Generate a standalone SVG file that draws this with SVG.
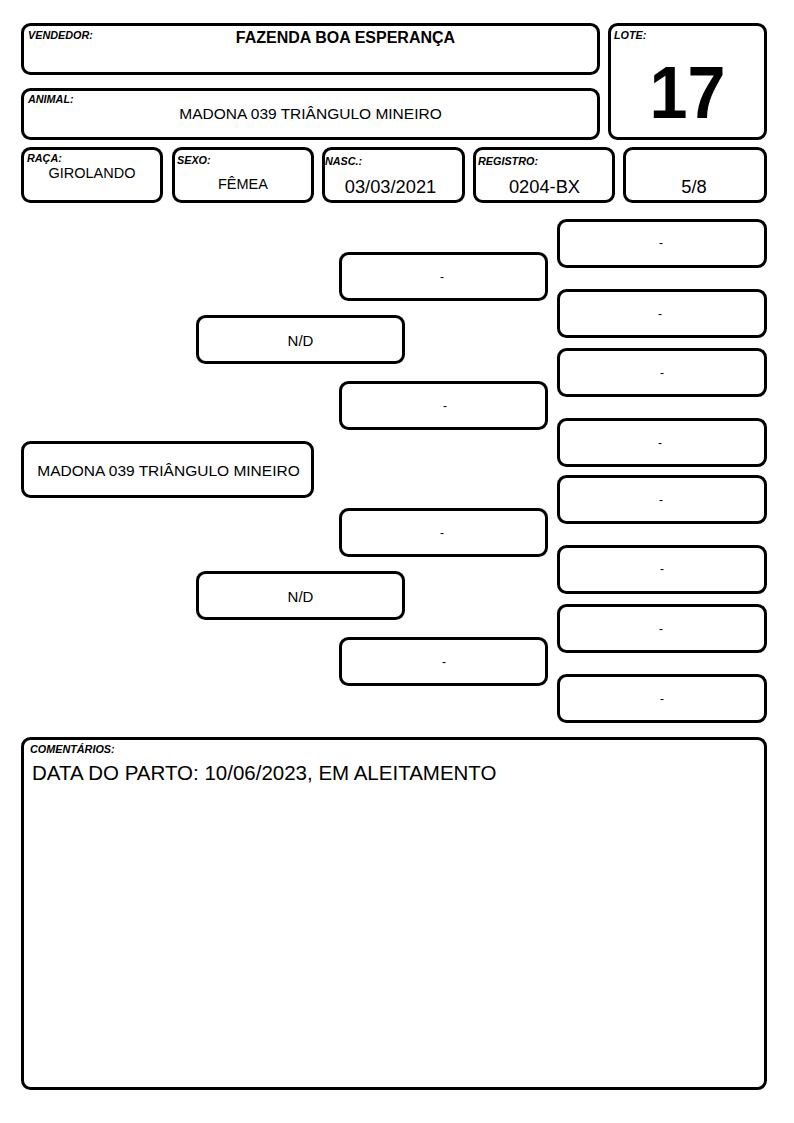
<svg xmlns="http://www.w3.org/2000/svg" width="794" height="1123" viewBox="0 0 794 1123">
<style>
.box{fill:#fff;stroke:#000;stroke-width:3}
.lbl{font-family:"Liberation Sans",Arial,sans-serif;font-size:10.8px;font-weight:bold;font-style:italic;fill:#000}
.t{font-family:"Liberation Sans",Arial,sans-serif;fill:#000;text-anchor:middle}
.v{font-size:15.5px}
.r3{font-size:18.3px}
.nd{font-size:15px}
.d{font-size:12px}
</style>
<rect x="0" y="0" width="794" height="1123" fill="#fff"/>
<g id="connectors"/>
<g id="vendedor">
<rect class="box" x="22.5" y="24.5" width="576" height="49" rx="8"/>
<text class="lbl" x="28" y="39">VENDEDOR:</text>
<text class="t" x="345.5" y="43" font-size="16" font-weight="bold">FAZENDA BOA ESPERANÇA</text>
</g>
<g id="animal">
<rect class="box" x="22.5" y="89.5" width="576" height="49" rx="8"/>
<text class="lbl" x="28" y="103">ANIMAL:</text>
<text class="t v" x="310.5" y="119">MADONA 039 TRIÂNGULO MINEIRO</text>
</g>
<g id="lote">
<rect class="box" x="609.5" y="24.5" width="156" height="114" rx="8"/>
<text class="lbl" x="614" y="39">LOTE:</text>
<text class="t" x="687.5" y="118" font-size="74" font-weight="bold" textLength="76" lengthAdjust="spacingAndGlyphs">17</text>
</g>
<g id="raca">
<rect class="box" x="22.5" y="148.5" width="139" height="53" rx="8"/>
<text class="lbl" x="27" y="162">RAÇA:</text>
<text class="t" x="92" y="178" font-size="14.5">GIROLANDO</text>
</g>
<g id="sexo">
<rect class="box" x="173.5" y="148.5" width="139" height="53" rx="8"/>
<text class="lbl" x="177" y="164">SEXO:</text>
<text class="t" x="243" y="189" font-size="14.5">FÊMEA</text>
</g>
<g id="nasc">
<rect class="box" x="323.5" y="148.5" width="140" height="53" rx="8"/>
<text class="lbl" x="325" y="165">NASC.:</text>
<text class="t r3" x="390.5" y="193">03/03/2021</text>
</g>
<g id="registro">
<rect class="box" x="474.5" y="148.5" width="139" height="53" rx="8"/>
<text class="lbl" x="478" y="165">REGISTRO:</text>
<text class="t r3" x="544.5" y="193">0204-BX</text>
</g>
<g id="grau">
<rect class="box" x="624.5" y="148.5" width="141" height="53" rx="8"/>
<text class="t r3" x="694" y="193">5/8</text>
</g>
<g id="ped-animal">
<rect class="box" x="22.5" y="442.5" width="290" height="54" rx="8"/>
<text class="t v" x="168.5" y="476">MADONA 039 TRIÂNGULO MINEIRO</text>
</g>
<g id="ped-pai">
<rect class="box" x="197.5" y="316.5" width="206" height="46" rx="8"/>
<text class="t nd" x="300.5" y="346">N/D</text>
</g>
<g id="ped-mae">
<rect class="box" x="197.5" y="572.5" width="206" height="46" rx="8"/>
<text class="t nd" x="300.5" y="602">N/D</text>
</g>
<g id="avo1">
<rect class="box" x="340.5" y="253.5" width="206" height="46" rx="8"/>
<text class="t d" x="442" y="281">-</text>
</g>
<g id="avo2">
<rect class="box" x="340.5" y="382.5" width="206" height="46" rx="8"/>
<text class="t d" x="445" y="410">-</text>
</g>
<g id="avo3">
<rect class="box" x="340.5" y="509.5" width="206" height="46" rx="8"/>
<text class="t d" x="442" y="537">-</text>
</g>
<g id="avo4">
<rect class="box" x="340.5" y="638.5" width="206" height="46" rx="8"/>
<text class="t d" x="444" y="666">-</text>
</g>
<g id="bisavo1">
<rect class="box" x="558.5" y="220.5" width="207" height="46" rx="8"/>
<text class="t d" x="661" y="247">-</text>
</g>
<g id="bisavo2">
<rect class="box" x="558.5" y="290.5" width="207" height="46" rx="8"/>
<text class="t d" x="660" y="318">-</text>
</g>
<g id="bisavo3">
<rect class="box" x="558.5" y="349.5" width="207" height="46" rx="8"/>
<text class="t d" x="662" y="377">-</text>
</g>
<g id="bisavo4">
<rect class="box" x="558.5" y="419.5" width="207" height="46" rx="8"/>
<text class="t d" x="660" y="447">-</text>
</g>
<g id="bisavo5">
<rect class="box" x="558.5" y="476.5" width="207" height="46" rx="8"/>
<text class="t d" x="661" y="504">-</text>
</g>
<g id="bisavo6">
<rect class="box" x="558.5" y="546.5" width="207" height="46" rx="8"/>
<text class="t d" x="662" y="573">-</text>
</g>
<g id="bisavo7">
<rect class="box" x="558.5" y="605.5" width="207" height="46" rx="8"/>
<text class="t d" x="661" y="633">-</text>
</g>
<g id="bisavo8">
<rect class="box" x="558.5" y="675.5" width="207" height="46" rx="8"/>
<text class="t d" x="662" y="703">-</text>
</g>
<g id="comentarios">
<rect class="box" x="22.5" y="738.5" width="743" height="350" rx="8"/>
<text class="lbl" x="30" y="753">COMENTÁRIOS:</text>
<text x="32" y="780" font-family="'Liberation Sans',Arial,sans-serif" font-size="20.5" fill="#000">DATA DO PARTO: 10/06/2023, EM ALEITAMENTO</text>
</g>
</svg>
